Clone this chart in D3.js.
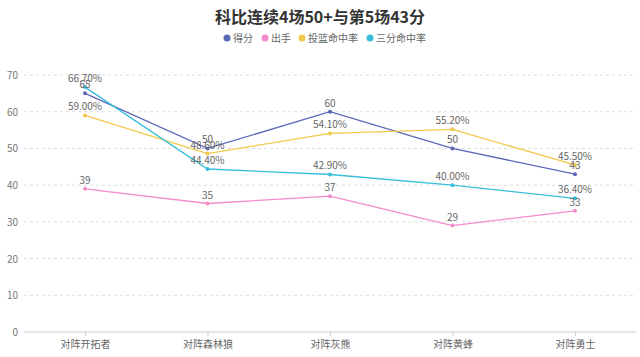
<!DOCTYPE html>
<html><head><meta charset="utf-8">
<script src="https://cdn.jsdelivr.net/npm/d3@7"></script>
<style>body{margin:0;background:#fff;}svg{display:block;font-family:"Noto Sans CJK SC","Noto Sans",sans-serif;}</style>
</head><body><svg id="c" width="640" height="357"></svg>
<script>
const categories = ["对阵开拓者","对阵森林狼","对阵灰熊","对阵黄蜂","对阵勇士"];
const seriesNames = ["得分","出手","投篮命中率","三分命中率"];
const points = [65,50,60,50,43];
const shots = [39,35,37,29,33];
const fgPct = [59.00,48.60,54.10,55.20,45.50];
const threePct = [66.70,44.40,42.90,40.00,36.40];
const yTicks = [0,10,20,30,40,50,60,70];
const colors = ["#5b68b8","#f48bcb","#f2c94c","#38bedb"];

const svg = d3.select("#c");
const x = d3.scalePoint().domain(categories).range([85,575]);
const y = d3.scaleLinear().domain([0,70]).range([332,75]);

// grid
svg.append("g").selectAll("line").data(yTicks.filter(d=>d>0)).join("line")
  .attr("x1",24).attr("x2",636).attr("y1",d=>y(d)).attr("y2",d=>y(d))
  .attr("stroke","#ddd").attr("stroke-dasharray","3,3");
svg.append("g").selectAll("text").data(yTicks).join("text")
  .attr("x",18).attr("y",d=>y(d)+4).attr("text-anchor","end")
  .attr("font-size",10).attr("fill","#777").text(d=>d);
// x axis
const xa = svg.append("g").attr("transform","translate(0,332)")
  .call(d3.axisBottom(x).tickSize(4).tickSizeOuter(0));
xa.select(".domain").attr("d","M24,0H636").attr("stroke","#ccc");
xa.selectAll(".tick line").attr("stroke","#ccc");
xa.selectAll(".tick text").attr("font-size",10).attr("fill","#666").attr("dy","0.9em")
  .attr("font-family",'"Noto Sans CJK SC",sans-serif');

const series = [
  {name:seriesNames[0], vals:points, fmt:d=>String(d)},
  {name:seriesNames[1], vals:shots, fmt:d=>String(d)},
  {name:seriesNames[2], vals:fgPct, fmt:d=>d.toFixed(2)+"%"},
  {name:seriesNames[3], vals:threePct, fmt:d=>d.toFixed(2)+"%"}
];
const line = d3.line().x((d,i)=>x(categories[i])).y(d=>y(d));
series.forEach((s,k)=>{
  const g = svg.append("g");
  g.append("path").attr("d",line(s.vals)).attr("fill","none")
   .attr("stroke",colors[k]).attr("stroke-width",1.3);
  g.selectAll("circle").data(s.vals).join("circle")
   .attr("cx",(d,i)=>x(categories[i])).attr("cy",d=>y(d)).attr("r",2)
   .attr("fill",colors[k]);
});
series.forEach((s,k)=>{
  svg.append("g").selectAll("text").data(s.vals).join("text")
   .attr("x",(d,i)=>x(categories[i])).attr("y",d=>y(d)-5)
   .attr("text-anchor","middle").attr("font-size",10).attr("fill","#666")
   .text(d=>s.fmt(d));
});

// title
svg.append("text").attr("x",320).attr("y",23).attr("text-anchor","middle")
  .attr("font-size",16).attr("font-weight","bold").attr("fill","#333")
  .text("科比连续4场50+与第5场43分");
// legend
const lx = [227,265,302,370];
seriesNames.forEach((n,k)=>{
  svg.append("circle").attr("cx",lx[k]).attr("cy",38).attr("r",3.5).attr("fill",colors[k]);
  svg.append("text").attr("x",lx[k]+6).attr("y",42).attr("font-size",10).attr("fill","#666").text(n);
});
</script></body></html>
